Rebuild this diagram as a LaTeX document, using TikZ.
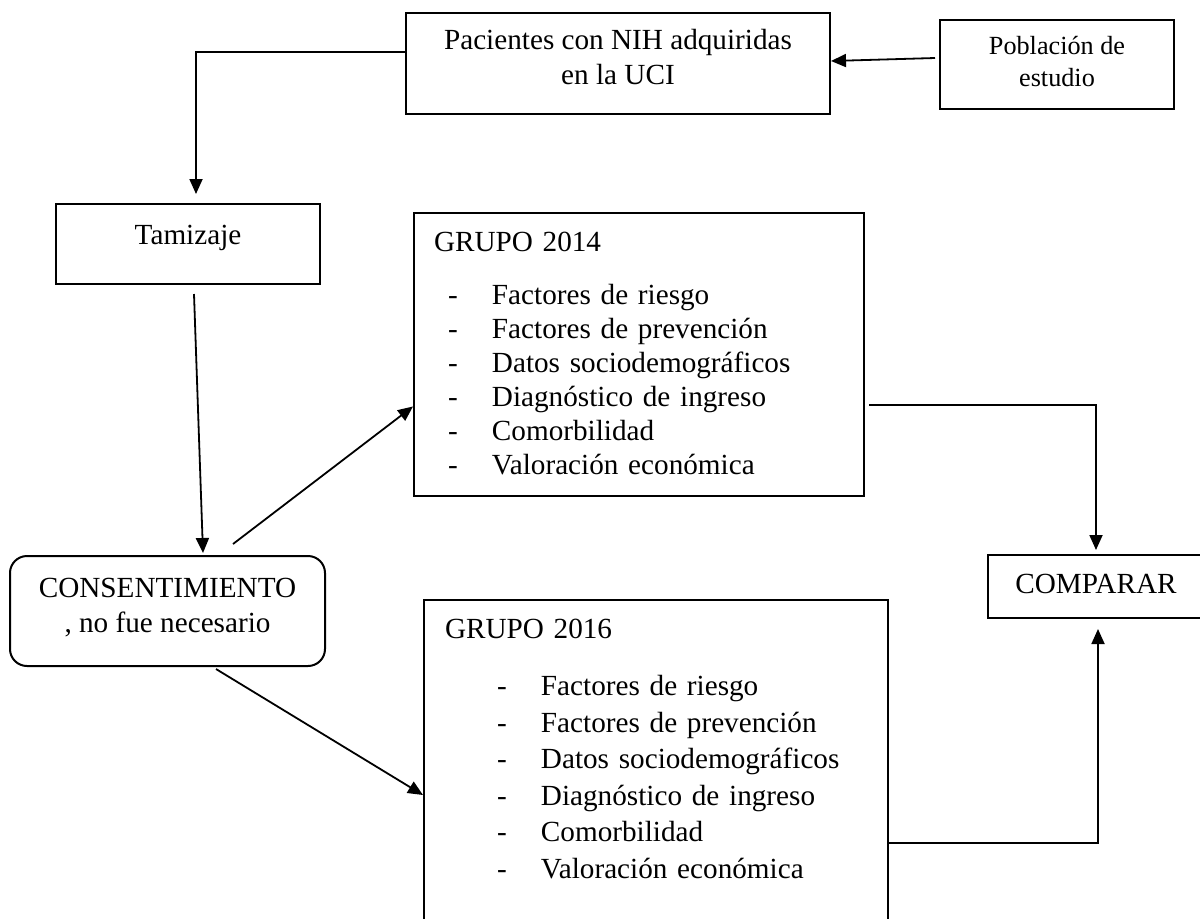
\documentclass[tikz,border=0pt]{standalone}
\usepackage{fontspec}
\setmainfont{Liberation Serif}
\usetikzlibrary{arrows.meta}
\newcommand{\guion}[1]{\makebox[22pt][l]{-}#1}

\begin{document}
\begin{tikzpicture}[
    x=0.5pt,y=-0.5pt,
    box/.style={draw,line width=1pt,anchor=north west,align=center,
                font=\fontsize{14.6pt}{17.5pt}\selectfont},
    grupo/.style={draw,line width=1pt,anchor=north west,align=left,
                inner xsep=10pt,inner ysep=9.5pt},
    arrow/.style={-{Triangle[width=6.5pt,length=7.5pt]},line width=0.9pt}
  ]
    \useasboundingbox (0,0) rectangle (1200,918);
    \node[box,minimum width=212pt,minimum height=50.5pt] (pac) at (405,12)
      {Pacientes con NIH adquiridas\\en la UCI\rule[-7pt]{0pt}{0pt}};
    \node[box,minimum width=117pt,minimum height=44.5pt,
          font=\fontsize{13.1pt}{16pt}\selectfont] (pob) at (939,19)
      {Población de\\estudio\rule[-3pt]{0pt}{0pt}};
    \node[box,minimum width=132pt,minimum height=40pt,
          text height=10pt,text depth=10pt] (tam) at (55,203) {Tamizaje};
    \node[box,minimum width=157.5pt,minimum height=55pt,rounded corners=8.5pt] (con) at (9,555)
      {CONSENTIMIENTO\\, no fue necesario\rule[-5.5pt]{0pt}{0pt}};
    \node[grupo,text width=205pt,font=\fontsize{14.6pt}{17pt}\selectfont] (g14) at (413,212)
      {GRUPO 2014\\[9.75pt]
       \hspace*{7pt}\guion{Factores de riesgo}\\
       \hspace*{7pt}\guion{Factores de prevención}\\
       \hspace*{7pt}\guion{Datos sociodemográficos}\\
       \hspace*{7pt}\guion{Diagnóstico de ingreso}\\
       \hspace*{7pt}\guion{Comorbilidad}\\
       \hspace*{7pt}\guion{Valoración económica}\rule[-1pt]{0pt}{0pt}};
    \node[grupo,inner xsep=10.5pt,text width=211pt,font=\fontsize{14.6pt}{18.25pt}\selectfont] (g16) at (423,599)
      {GRUPO 2016\\[10.5pt]
       \hspace*{26pt}\guion{Factores de riesgo}\\
       \hspace*{26pt}\guion{Factores de prevención}\\
       \hspace*{26pt}\guion{Datos sociodemográficos}\\
       \hspace*{26pt}\guion{Diagnóstico de ingreso}\\
       \hspace*{26pt}\guion{Comorbilidad}\\
       \hspace*{26pt}\guion{Valoración económica}\rule[-20pt]{0pt}{0pt}};
    \node[box,minimum width=108pt,minimum height=31.5pt,text depth=2.5pt] (comp) at (987,554) {COMPARAR};

    \draw[arrow] ([xshift=-2pt,yshift=3.25pt]pob.west) -- ([yshift=1.25pt]pac.east);
    \draw[arrow] ([yshift=5.75pt]pac.west) -| ([xshift=4pt,yshift=4.5pt]tam.north);
    \draw[arrow] ([xshift=3pt,yshift=-4.5pt]tam.south) -- ([xshift=17.75pt,yshift=1pt]con.north);
    \draw[arrow] ([xshift=32.75pt,yshift=5.5pt]con.north) -- ([yshift=-26pt]g14.west);
    \draw[arrow] ([xshift=24.25pt,yshift=-1pt]con.south) -- ([yshift=-98pt]g16.north west);
    \draw[arrow] ([xshift=2pt,yshift=-96.5pt]g14.north east) -| ([yshift=2pt]comp.north);
    \draw[arrow] ([xshift=-1pt,yshift=-122pt]g16.north east) -| ([xshift=1pt,yshift=-5pt]comp.south);
  \end{tikzpicture}
\end{document}
